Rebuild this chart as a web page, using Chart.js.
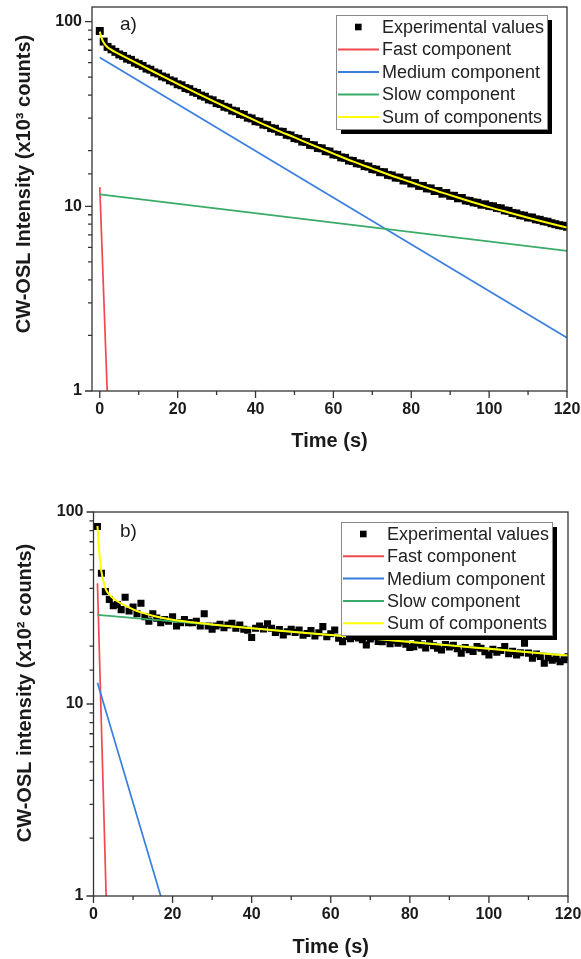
<!DOCTYPE html>
<html>
<head>
<meta charset="utf-8">
<script src="https://cdn.jsdelivr.net/npm/chart.js@4.4.0/dist/chart.umd.min.js"></script>
<style>
  html, body { margin: 0; padding: 0; background: #fff; }
  #wrapA { position: absolute; left: 0; top: 0; width: 581px; height: 453px; }
  #wrapB { position: absolute; left: 0; top: 453px; width: 581px; height: 506px; }
</style>
</head>
<body>
<div id="wrapA"><canvas id="chartA" width="581" height="453"></canvas></div>
<div id="wrapB"><canvas id="chartB" width="581" height="506"></canvas></div>
<script>
var seriesNames = ['Experimental values', 'Fast component', 'Medium component', 'Slow component', 'Sum of components'];
var yLabelValues = [1, 10, 100];

// panel a) (x10^3 counts)
var timeA = [0,1,2,3,4,5,6,7,8,9,10,11,12,13,14,15,16,17,18,19,20,21,22,23,24,25,26,27,28,29,30,
  31,32,33,34,35,36,37,38,39,40,41,42,43,44,45,46,47,48,49,50,51,52,53,54,55,56,57,58,59,60,
  61,62,63,64,65,66,67,68,69,70,71,72,73,74,75,76,77,78,79,80,81,82,83,84,85,86,87,88,89,90,
  91,92,93,94,95,96,97,98,99,100,101,102,103,104,105,106,107,108,109,110,111,112,113,114,115,116,117,118,119,120];
var expA = [89, 78, 73, 70.8, 68.6, 66.4, 65.2, 63.0, 62.1, 60.0,
  58.9, 57.6, 55.7, 54.9, 53.1, 52.3, 50.5, 49.8, 48.1, 47.4,
  45.8, 45.2, 43.7, 43.1, 41.7, 41.1, 39.8, 39.2, 37.9, 37.5,
  36.2, 35.8, 34.6, 34.2, 33.0, 32.7, 31.6, 31.3, 30.2, 29.9,
  28.9, 28.7, 27.7, 27.5, 26.5, 26.3, 25.4, 25.3, 24.4, 24.2,
  23.4, 23.2, 22.4, 22.3, 21.5, 21.4, 20.7, 20.6, 19.9, 19.8,
  19.1, 19.0, 18.4, 18.3, 17.7, 17.6, 17.1, 17.0, 16.5, 16.4,
  15.9, 15.8, 15.3, 15.3, 14.8, 14.7, 14.3, 14.3, 13.8, 13.8,
  13.3, 13.35, 12.9, 12.9, 12.5, 12.5, 12.1, 12.1, 11.7, 11.8,
  11.4, 11.4, 11.05, 11.1, 10.75, 10.7, 10.5, 10.45, 10.2, 10.25,
  10.05, 10.0, 9.8, 9.75, 9.5, 9.45, 9.2, 9.15, 8.95, 8.9,
  8.7, 8.7, 8.5, 8.45, 8.3, 8.25, 8.1, 8.0, 7.9, 7.85,
  7.75];
var fastTimeA = [0, 1.9];
var fastA = [12.7, 1];
var mediumTimeA = [0, 120];
var mediumA = [64, 1.94];
var slowTimeA = [0, 120];
var slowA = [11.6, 5.73];
var sumTimeA = [0, 0.5, 1, 1.5, 2, 3, 4, 5, 10, 15, 20, 25, 30, 35, 40, 45, 50, 55, 60, 65, 70, 75, 80, 85, 90, 95, 100, 105, 110, 115, 120];
var sumA = [88.3, 81.2, 77.0, 74.5, 72.7, 70.3, 68.3, 66.6, 58.8, 52.0, 46.0, 40.9, 36.4, 32.5, 29.1, 26.1, 23.6, 21.3, 19.3, 17.5, 16.0, 14.65, 13.5, 12.4, 11.5, 10.65, 9.9, 9.26, 8.67, 8.14, 7.67];

// panel b) (x10^2 counts)
var timeB = [1,2,3,4,5,6,7,8,9,10,11,12,13,14,15,16,17,18,19,20,21,22,23,24,25,26,27,28,29,30,
  31,32,33,34,35,36,37,38,39,40,41,42,43,44,45,46,47,48,49,50,51,52,53,54,55,56,57,58,59,60,
  61,62,63,64,65,66,67,68,69,70,71,72,73,74,75,76,77,78,79,80,81,82,83,84,85,86,87,88,89,90,
  91,92,93,94,95,96,97,98,99,100,101,102,103,104,105,106,107,108,109,110,111,112,113,114,115,116,117,118,119,120];
var expB = [84, 48, 38.5, 35, 32.5, 33, 31, 36, 30.5, 32,
  29.5, 33.5, 28.5, 27, 29.5, 28, 26.5, 27.5, 27, 28.5,
  25.5, 26.5, 27.5, 26.5, 26.5, 27, 25.5, 29.5, 25.5, 24.5,
  25.5, 26, 25, 25.8, 26.3, 24.8, 25.8, 24.5, 24.2, 22.2,
  24.8, 25.5, 24.6, 26.2, 24.8, 23.6, 24.4, 22.9, 23.8, 24.5,
  23.6, 24.3, 22.8, 23.3, 24.1, 22.6, 23.5, 25.3, 22.4, 23.2,
  24.3, 22.0, 21.1, 22.7, 21.9, 22.8, 22.1, 21.6, 20.3, 21.8,
  22.4, 21.2, 21.1, 21.8, 20.6, 21.5, 20.7, 21.3, 20.5, 19.7,
  19.9, 20.8, 20.3, 19.6, 20.9, 20.1, 19.5, 19.1, 20.4, 19.8,
  20.2, 19.4, 18.4, 19.7, 19.2, 18.8, 19.9, 19.5, 18.7, 18.0,
  19.3, 18.6, 19.0, 19.9, 18.3, 18.8, 18.0, 18.5, 20.7, 18.4,
  17.3, 18.2, 17.7, 16.3, 17.4, 16.9, 17.2, 16.6, 17.0, 17.6];
var fastTimeB = [1, 3.2];
var fastB = [42.5, 1];
var mediumTimeB = [1, 17];
var mediumB = [12.9, 1];
var slowTimeB = [1, 120];
var slowB = [29.1, 17.9];
var sumTimeB = [1, 1.5, 2, 3, 4, 5, 6, 8, 10, 12, 15, 20, 25, 30, 40, 50, 60, 70, 80, 90, 100, 110, 120];
var sumB = [84.5, 60.4, 48.9, 40.1, 37.1, 35.5, 34.3, 32.5, 31.1, 30.0, 28.8, 27.5, 26.65, 25.96, 24.8, 23.8, 22.85, 21.92, 21.03, 20.2, 19.38, 18.6, 17.9];

var FONT = '"Liberation Sans", Arial, Helvetica, sans-serif';
var AXIS_COLOR = '#333333';
var TEXT_COLOR = '#1a1a1a';
var seriesColors = ['#000000', '#f2484f', '#3a7fde', '#3aab68', '#ffff00'];

function pairs(xs, ys) {
  return xs.map(function(x, i) { return { x: x, y: ys[i] }; });
}

// frame, outward ticks, legend box, panel letter and y title
var panelDecor = {
  id: 'panelDecor',
  afterDraw: function(chart, args, opts) {
    var ctx = chart.ctx, area = chart.chartArea;
    var xs = chart.scales.x, ys = chart.scales.y;
    ctx.save();
    ctx.strokeStyle = AXIS_COLOR;
    ctx.lineWidth = 1.3;
    ctx.strokeRect(area.left, area.top, area.right - area.left, area.bottom - area.top);
    ctx.beginPath();
    xs.ticks.forEach(function(t) {
      if (t.value < 0) return;
      var px = xs.getPixelForValue(t.value);
      var len = t.label ? 7 : 4;
      ctx.moveTo(px, area.bottom);
      ctx.lineTo(px, area.bottom + len);
    });
    ys.ticks.forEach(function(t) {
      if (t.value > 100) return;
      var py = ys.getPixelForValue(t.value);
      var len = t.label ? 7 : 4;
      ctx.moveTo(area.left, py);
      ctx.lineTo(area.left - len, py);
    });
    ctx.stroke();

    // y title
    ctx.save();
    ctx.translate(opts.yTitleX, opts.yTitleY);
    ctx.rotate(-Math.PI / 2);
    ctx.fillStyle = TEXT_COLOR;
    ctx.font = 'bold 20px ' + FONT;
    ctx.textAlign = 'center';
    ctx.textBaseline = 'middle';
    ctx.fillText(opts.yTitle, 0, 0);
    ctx.restore();

    // panel letter
    ctx.fillStyle = TEXT_COLOR;
    ctx.font = '19px ' + FONT;
    ctx.textAlign = 'left';
    ctx.textBaseline = 'middle';
    ctx.fillText(opts.letter, opts.letterX, opts.letterY);

    // legend
    var L = opts.legend;
    ctx.fillStyle = '#000';
    ctx.fillRect(L.left + 5, L.top + 5, L.width, L.height);
    ctx.fillStyle = '#fff';
    ctx.fillRect(L.left, L.top, L.width, L.height);
    ctx.strokeStyle = '#8a8a8a';
    ctx.lineWidth = 1;
    ctx.strokeRect(L.left + 0.5, L.top + 0.5, L.width, L.height);
    ctx.font = '18px ' + FONT;
    chart.data.datasets.forEach(function(ds, i) {
      var y = L.top + 12 + i * L.rowH;
      if (ds.showLine) {
        ctx.strokeStyle = ds.borderColor;
        ctx.lineWidth = 2;
        ctx.beginPath();
        ctx.moveTo(L.left + 2, y);
        ctx.lineTo(L.left + 43, y);
        ctx.stroke();
      } else {
        ctx.fillStyle = ds.backgroundColor;
        ctx.fillRect(L.left + 19, y - 3.3, 6.6, 6.6);
      }
      ctx.fillStyle = '#222';
      ctx.fillText(ds.label, L.left + 46, y + 1);
    });
    ctx.restore();
  }
};

function buildChart(canvasId, p) {
  var lineSets = [
    [p.fastT, p.fastV], [p.mediumT, p.mediumV], [p.slowT, p.slowV], [p.sumT, p.sumV]
  ];
  var datasets = [{
    label: seriesNames[0],
    data: pairs(p.expT, p.expV),
    showLine: false,
    pointStyle: 'rect',
    pointRadius: p.markR,
    pointBorderWidth: 0,
    backgroundColor: seriesColors[0],
    borderColor: seriesColors[0],
    order: 5
  }];
  lineSets.forEach(function(s, i) {
    datasets.push({
      label: seriesNames[i + 1],
      data: pairs(s[0], s[1]),
      showLine: true,
      pointRadius: 0,
      borderColor: seriesColors[i + 1],
      backgroundColor: seriesColors[i + 1],
      borderWidth: i === 3 ? 2 : 1.7,
      cubicInterpolationMode: i === 3 ? 'monotone' : 'default',
      fill: false,
      order: 4 - i
    });
  });

  return new Chart(document.getElementById(canvasId), {
    type: 'scatter',
    data: { datasets: datasets },
    plugins: [panelDecor],
    options: {
      responsive: false,
      animation: false,
      devicePixelRatio: 1,
      events: [],
      layout: { padding: { left: 13, top: p.padTop, right: p.padRight, bottom: 0 } },
      plugins: {
        legend: { display: false },
        tooltip: { enabled: false },
        panelDecor: p.decor
      },
      scales: {
        x: {
          type: 'linear',
          min: p.xMin,
          max: 120,
          grid: { display: false, drawTicks: false },
          border: { display: false },
          ticks: {
            stepSize: 10,
            includeBounds: false,
            autoSkip: false,
            maxRotation: 0,
            padding: 9,
            color: TEXT_COLOR,
            font: { family: FONT, size: 16, weight: 'bold' },
            callback: function(v) { return (v >= 0 && v % 20 === 0) ? String(v) : ''; }
          },
          title: {
            display: true,
            text: 'Time (s)',
            color: TEXT_COLOR,
            padding: 0,
            font: { family: FONT, size: 20, weight: 'bold' }
          },
          afterFit: function(scale) {
            scale.height = p.xAxisH;
            scale.paddingLeft = scale.paddingRight = 0;
          }
        },
        y: {
          type: 'logarithmic',
          min: 1,
          max: p.yMax,
          grid: { display: false, drawTicks: false },
          border: { display: false },
          afterBuildTicks: function(scale) {
            scale.ticks = scale.ticks.filter(function(t) { return t.value <= 100; });
          },
          ticks: {
            autoSkip: false,
            padding: 10,
            color: TEXT_COLOR,
            font: { family: FONT, size: 16, weight: 'bold' },
            callback: function(v) { return yLabelValues.indexOf(v) >= 0 ? String(v) : ''; }
          },
          afterFit: function(scale) {
            scale.width = p.yAxisW;
            scale.paddingTop = scale.paddingBottom = 0;
          }
        }
      }
    }
  });
}

buildChart('chartA', {
  expT: timeA, expV: expA, fastT: fastTimeA, fastV: fastA,
  mediumT: mediumTimeA, mediumV: mediumA, slowT: slowTimeA, slowV: slowA,
  sumT: sumTimeA, sumV: sumA,
  markR: 5.6, xMin: -2, yMax: 120,
  padTop: 7, padRight: 14, yAxisW: 79, xAxisH: 62,
  decor: {
    yTitle: 'CW-OSL Intensity (x10\u00b3 counts)', yTitleX: 24, yTitleY: 184,
    letter: 'a)', letterX: 120, letterY: 25,
    legend: { left: 336, top: 15, width: 211, height: 114, rowH: 22.5 }
  }
});

buildChart('chartB', {
  expT: timeB, expV: expB, fastT: fastTimeB, fastV: fastB,
  mediumT: mediumTimeB, mediumV: mediumB, slowT: slowTimeB, slowV: slowB,
  sumT: sumTimeB, sumV: sumB,
  markR: 5, xMin: 0, yMax: 100,
  padTop: 59, padRight: 13, yAxisW: 80.5, xAxisH: 63,
  decor: {
    yTitle: 'CW-OSL intensity (x10\u00b2 counts)', yTitleX: 25, yTitleY: 240,
    letter: 'b)', letterX: 120, letterY: 79,
    legend: { left: 341, top: 69, width: 211, height: 113, rowH: 22.3 }
  }
});
</script>
</body>
</html>
